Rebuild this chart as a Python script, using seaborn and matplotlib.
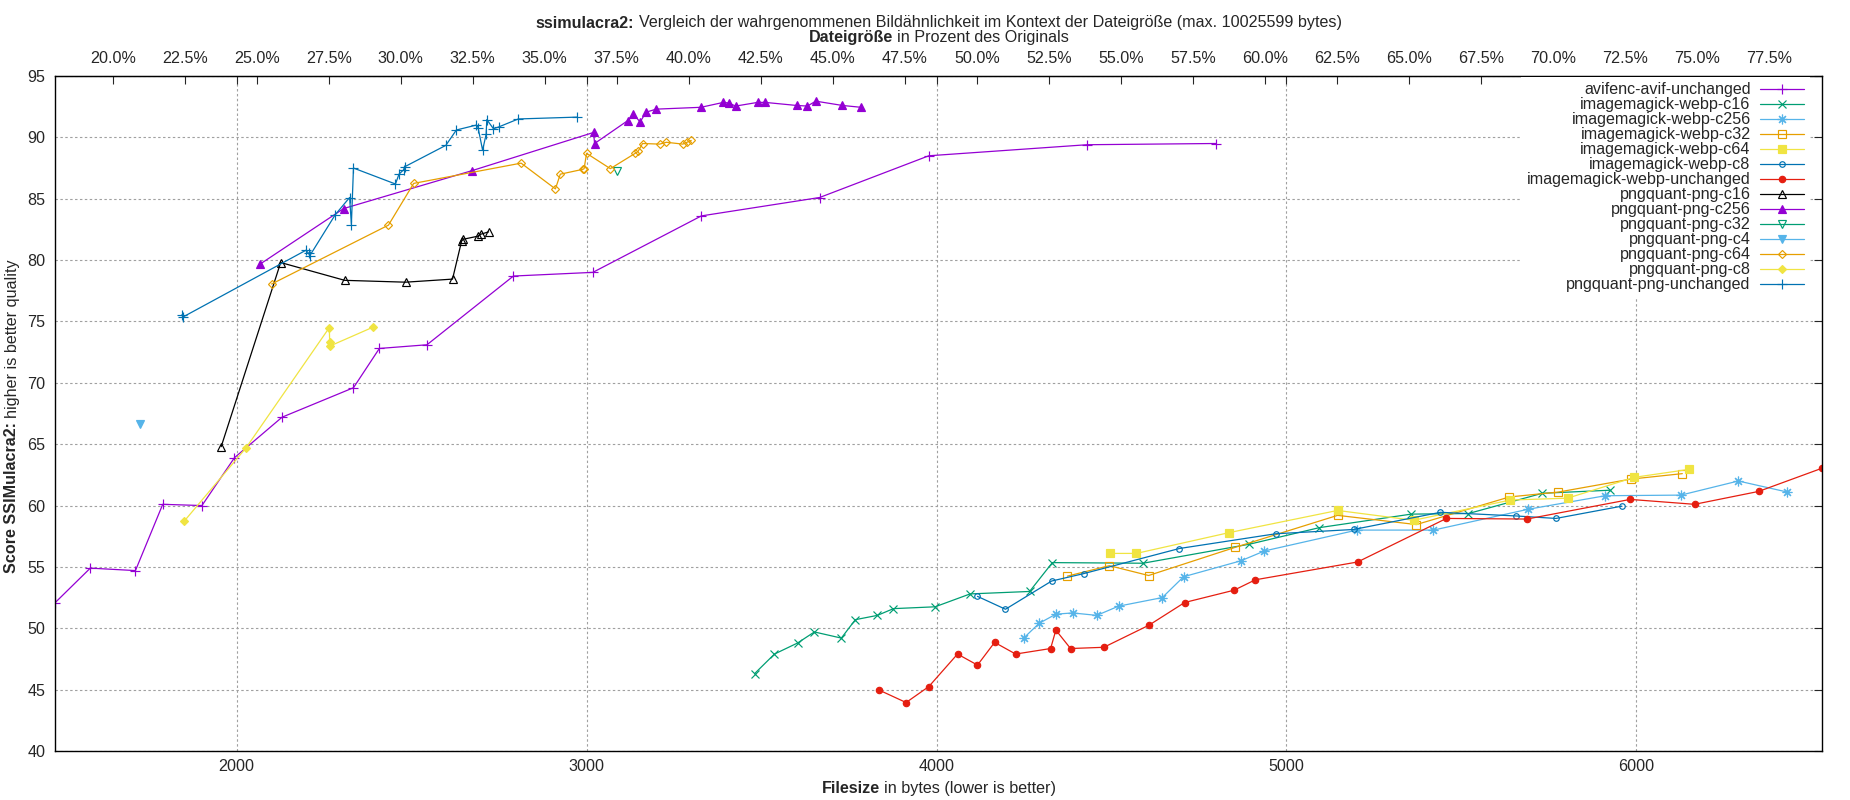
import matplotlib
matplotlib.use("Agg")
import matplotlib.pyplot as plt
from matplotlib.transforms import IdentityTransform
from matplotlib.ticker import MultipleLocator, FuncFormatter
import seaborn as sns
import pandas as pd

sns.set_style("white")
plt.rcParams['font.family'] = ['Liberation Sans', 'DejaVu Sans']
FS = 11.6

# Dateigröße, die auf der oberen Achse 100% entspricht
ORIG_BYTES = 8230

# --- Daten (Dateigröße in Bytes, Score) ---
avif_x = [1482, 1582, 1711, 1789, 1901, 1994, 2130, 2334, 2408, 2544, 2791, 3018,
          3328, 3666, 3978, 4430, 4798]
avif_y = [52.1, 54.9, 54.7, 60.1, 60.0, 63.9, 67.2, 69.6, 72.8, 73.1, 78.7, 79.0,
          83.6, 85.1, 88.5, 89.4, 89.5]

webp_c16_x = [3480, 3537, 3603, 3651, 3728, 3768, 3831, 3877, 3996, 4096, 4266, 4331,
              4590, 4894, 5094, 5356, 5520, 5731, 5925]
webp_c16_y = [46.3, 47.9, 48.8, 49.7, 49.2, 50.7, 51.05, 51.6, 51.75, 52.8, 53.0, 55.35,
              55.3, 56.85, 58.2, 59.3, 59.35, 61.0, 61.25]

webp_c256_x = [4249, 4293, 4341, 4389, 4458, 4520, 4645, 4706, 4870, 4937, 5201, 5420,
               5691, 5911, 6127, 6291, 6431]
webp_c256_y = [49.2, 50.4, 51.15, 51.25, 51.05, 51.8, 52.5, 54.2, 55.5, 56.3, 58.0, 58.0,
               59.7, 60.8, 60.85, 62.0, 61.1]

webp_c32_x = [4374, 4494, 4606, 4854, 5146, 5371, 5637, 5777, 5983, 6131]
webp_c32_y = [54.25, 55.1, 54.3, 56.6, 59.2, 58.45, 60.7, 61.1, 62.15, 62.6]

webp_c64_x = [4497, 4571, 4837, 5146, 5363, 5640, 5803, 5994, 6151]
webp_c64_y = [56.1, 56.1, 57.8, 59.6, 58.8, 60.45, 60.6, 62.3, 62.95]

webp_c8_x = [4117, 4197, 4329, 4420, 4694, 4969, 5192, 5440, 5657, 5770, 5958]
webp_c8_y = [52.6, 51.55, 53.85, 54.45, 56.5, 57.7, 58.05, 59.45, 59.15, 58.95, 59.95]

webp_unch_x = [3837, 3913, 3978, 4060, 4117, 4166, 4226, 4326, 4341, 4383, 4478, 4607,
               4709, 4850, 4911, 5203, 5457, 5687, 5982, 6166, 6349, 6531]
webp_unch_y = [44.95, 43.95, 45.25, 47.9, 47.0, 48.85, 47.9, 48.35, 49.85, 48.35, 48.45, 50.25,
               52.1, 53.1, 53.95, 55.4, 58.95, 58.9, 60.5, 60.1, 61.15, 63.05]

png_c16_x = [1956, 2126, 2309, 2483, 2617, 2643, 2648, 2690, 2697, 2720]
png_c16_y = [64.8, 79.8, 78.35, 78.2, 78.45, 81.55, 81.7, 81.95, 82.1, 82.3]

png_c256_x = [2066, 2306, 2674, 3020, 3023, 3117, 3134, 3153, 3170, 3199, 3327, 3391,
              3406, 3426, 3489, 3510, 3600, 3631, 3655, 3731, 3784]
png_c256_y = [79.65, 84.2, 87.3, 90.4, 89.5, 91.35, 91.9, 91.25, 92.05, 92.3, 92.45, 92.85,
              92.8, 92.55, 92.85, 92.85, 92.6, 92.55, 92.95, 92.6, 92.45]

png_c32_x = [3087]
png_c32_y = [87.3]

png_c4_x = [1723]
png_c4_y = [66.65]

png_c64_x = [2100, 2434, 2506, 2813, 2911, 2925, 2990, 2993, 3000, 3068, 3139, 3147,
             3160, 3209, 3228, 3275, 3287, 3299]
png_c64_y = [78.05, 82.85, 86.25, 87.9, 85.8, 87.0, 87.4, 87.45, 88.7, 87.45, 88.7, 88.85,
             89.5, 89.45, 89.6, 89.45, 89.6, 89.75]

png_c8_x = [1851, 2027, 2265, 2266, 2267, 2391]
png_c8_y = [58.75, 64.7, 74.5, 73.3, 73.0, 74.55]

png_unch_x = [1844, 1846, 2198, 2206, 2209, 2282, 2323, 2328, 2334, 2454, 2464, 2477,
              2480, 2598, 2628, 2685, 2690, 2703, 2713, 2715, 2734, 2749, 2805, 2973]
png_unch_y = [75.55, 75.35, 80.8, 80.55, 80.35, 83.7, 85.1, 82.9, 87.5, 86.2, 87.0, 87.35,
              87.6, 89.35, 90.6, 91.0, 90.8, 88.95, 90.25, 91.45, 90.7, 90.85, 91.5, 91.65]

ASTER = (8, 2, 0)

# name, x, y, farbe, marker, gefüllt, größe
series = [
    ("avifenc-avif-unchanged", avif_x, avif_y, "#9400d3", "+", False, 7),
    ("imagemagick-webp-c16", webp_c16_x, webp_c16_y, "#009e73", "x", False, 5.2),
    ("imagemagick-webp-c256", webp_c256_x, webp_c256_y, "#56b4e9", ASTER, False, 7),
    ("imagemagick-webp-c32", webp_c32_x, webp_c32_y, "#e69f00", "s", False, 5.2),
    ("imagemagick-webp-c64", webp_c64_x, webp_c64_y, "#f0e442", "s", True, 5.2),
    ("imagemagick-webp-c8", webp_c8_x, webp_c8_y, "#0072b2", "o", False, 4),
    ("imagemagick-webp-unchanged", webp_unch_x, webp_unch_y, "#e51e10", "o", True, 4.6),
    ("pngquant-png-c16", png_c16_x, png_c16_y, "#000000", "^", False, 6.2),
    ("pngquant-png-c256", png_c256_x, png_c256_y, "#9400d3", "^", True, 6.2),
    ("pngquant-png-c32", png_c32_x, png_c32_y, "#009e73", "v", False, 6.2),
    ("pngquant-png-c4", png_c4_x, png_c4_y, "#56b4e9", "v", True, 6.2),
    ("pngquant-png-c64", png_c64_x, png_c64_y, "#e69f00", "D", False, 4.4),
    ("pngquant-png-c8", png_c8_x, png_c8_y, "#f0e442", "D", True, 4.4),
    ("pngquant-png-unchanged", png_unch_x, png_unch_y, "#0072b2", "+", False, 7),
]

W, H = 1850, 800
AX_LEFT, AX_RIGHT = 55.3, 1822.3
fig = plt.figure(figsize=(W / 100, H / 100), dpi=100)
ax = fig.add_axes([AX_LEFT / W, 1 - 751 / H, (AX_RIGHT - AX_LEFT) / W, (751 - 76) / H])

for name, xs, ys, color, marker, filled, ms in series:
    df = pd.DataFrame({"x": xs, "y": ys})
    sns.lineplot(data=df, x="x", y="y", ax=ax, sort=False, estimator=None,
                 color=color, lw=0.9, marker=marker, markersize=ms,
                 markeredgecolor=color, markeredgewidth=0.85,
                 markerfacecolor=color if filled else "none", label=name)

all_x = [v for s in series for v in s[1]]
ax.set_xlim(min(all_x), max(all_x))
ax.set_ylim(40, 95)
ax.set_xlabel("")
ax.set_ylabel("")

ax.xaxis.set_major_locator(MultipleLocator(1000))
ax.yaxis.set_major_locator(MultipleLocator(5))
ax.tick_params(which="major", direction="in", length=5.8, width=0.8,
               top=True, right=True, labelsize=FS, pad=6)
ax.tick_params(axis="y", pad=7)
ax.grid(True, color="#a0a0a0", lw=0.8, linestyle=(0, (2.2, 2.2)))
for sp in ax.spines.values():
    sp.set_linewidth(1.0)
    sp.set_color("black")

sec = ax.secondary_xaxis("top", functions=(lambda b: b / ORIG_BYTES * 100,
                                            lambda p: p * ORIG_BYTES / 100))
sec.xaxis.set_major_locator(MultipleLocator(2.5))
sec.xaxis.set_major_formatter(FuncFormatter(lambda v, _: f"{v:.1f}%"))
sec.tick_params(direction="in", length=5.8, width=0.8, pad=7, labelsize=FS)

leg = ax.legend(loc="upper right", bbox_to_anchor=(0.993, 0.999), markerfirst=False,
                frameon=True, fancybox=False, framealpha=1, facecolor="white",
                edgecolor="none", fontsize=FS, borderpad=0.35, labelspacing=0.0,
                handlelength=2.75, handletextpad=0.58, numpoints=1, borderaxespad=0)


def rich_text(parts, cx, base_from_top, rotation=0):
    """Setzt Textstücke (Text, Gewicht) zentriert um cx nebeneinander."""
    renderer = fig.canvas.get_renderer()
    gap = 0.278 * FS * fig.dpi / 72
    arts = [fig.text(0, 0, s, fontsize=FS, fontweight=w, rotation=rotation,
                     rotation_mode="anchor", ha="left", va="baseline",
                     transform=IdentityTransform()) for s, w in parts]
    lens = []
    for a in arts:
        bb = a.get_window_extent(renderer)
        lens.append(bb.width if rotation == 0 else bb.height)
    pos = -(sum(lens) + gap * (len(arts) - 1)) / 2
    for a, length in zip(arts, lens):
        if rotation == 0:
            a.set_position((cx + pos, H - base_from_top))
        else:
            a.set_position((base_from_top, H - cx + pos))
        pos += length + gap


mid = (AX_LEFT + AX_RIGHT) / 2
rich_text([("ssimulacra2:", "bold"),
           ("Vergleich der wahrgenommenen Bildähnlichkeit im Kontext der Dateigröße (max. 10025599 bytes)", "normal")],
          mid, 27.5)
rich_text([("Dateigröße", "bold"), ("in Prozent des Originals", "normal")], mid, 42.3)
rich_text([("Filesize", "bold"), ("in bytes (lower is better)", "normal")], mid, 793)
# y-Beschriftung: cx = Mitte von oben gemessen, base = x der Grundlinie
rich_text([("Score SSIMulacra2:", "bold"), ("higher is better quality", "normal")],
          416, 16.5, rotation=90)

fig.savefig("out.png", dpi=100)
